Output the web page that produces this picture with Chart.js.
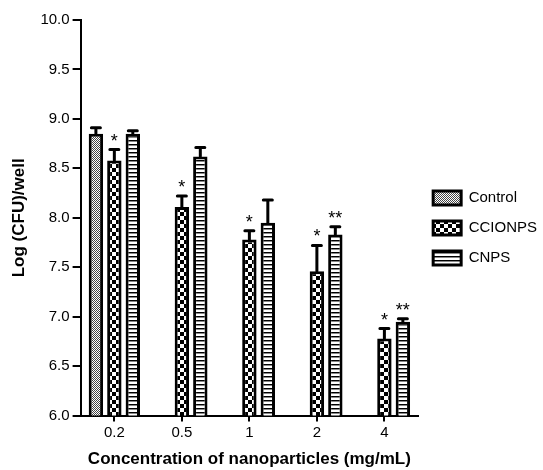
<!DOCTYPE html>
<html>
<head>
<meta charset="utf-8">
<script src="https://cdn.jsdelivr.net/npm/chart.js@4"></script>
<style>
  html, body { margin: 0; padding: 0; background: #fff; }
  #wrap { width: 543px; height: 470px; position: relative; }
</style>
</head>
<body>
<div id="wrap"><canvas id="chart"></canvas></div>
<script>
/* ─── Data ─── */
const concentrations = ["0.2", "0.5", "1", "2", "4"];
const controlMean = [8.85, null, null, null, null];
const controlErr = [0.06, null, null, null, null];
const ccionpsMean = [8.58, 8.11, 7.78, 7.46, 6.78];
const ccionpsErr = [0.11, 0.11, 0.09, 0.26, 0.10];
const cnpsMean = [8.85, 8.62, 7.95, 7.83, 6.95];
const cnpsErr = [0.03, 0.09, 0.23, 0.08, 0.03];
const ccionpsSig = ["*", "*", "*", "*", "*"];
const cnpsSig = ["", "", "", "**", "**"];
const yTicks = [6.0, 6.5, 7.0, 7.5, 8.0, 8.5, 9.0, 9.5, 10.0];

/* ─── Fill patterns ─── */
const makePattern = (size, paint) => {
  const c = document.createElement("canvas");
  c.width = size; c.height = size;
  const g = c.getContext("2d");
  g.fillStyle = "#fff";
  g.fillRect(0, 0, size, size);
  paint(g);
  return g.createPattern(c, "repeat");
};

const finePattern = makePattern(2, (g) => {
  g.fillStyle = "#444";
  g.fillRect(0, 0, 1, 1);
  g.fillRect(1, 1, 1, 1);
});
const checkPattern = makePattern(8, (g) => {
  g.fillStyle = "#000";
  g.fillRect(0, 0, 4, 4);
  g.fillRect(4, 4, 4, 4);
});
const stripePattern = makePattern(4, (g) => {
  g.fillStyle = "#000";
  g.fillRect(0, 0, 4, 1);
  g.fillStyle = "#888";
  g.fillRect(0, 1, 4, 1);
});

/* ─── Error bars + significance stars ─── */
const errorBars = {
  id: "errorBars",
  afterDatasetsDraw(chart) {
    const ctx = chart.ctx;
    const y = chart.scales.y;
    chart.data.datasets.forEach((ds, di) => {
      const meta = chart.getDatasetMeta(di);
      meta.data.forEach((bar, i) => {
        const m = ds.data[i];
        const e = ds.errors[i];
        if (m == null || e == null) return;
        const top = y.getPixelForValue(m + e);
        ctx.save();
        ctx.strokeStyle = "#000";
        ctx.lineWidth = 3;
        ctx.lineCap = "round";
        ctx.beginPath();
        ctx.moveTo(bar.x, bar.y);
        ctx.lineTo(bar.x, top);
        ctx.moveTo(bar.x - 4.5, top);
        ctx.lineTo(bar.x + 4.5, top);
        ctx.stroke();
        const sig = ds.sig ? ds.sig[i] : "";
        if (sig) {
          ctx.fillStyle = "#000";
          ctx.font = "18px 'Liberation Sans', Arial, sans-serif";
          ctx.textAlign = "center";
          ctx.textBaseline = "top";
          ctx.fillText(sig, bar.x, top - 17);
        }
        ctx.restore();
      });
    });
  },
};

const datasets = [
  { label: "Control", data: controlMean, errors: controlErr, backgroundColor: finePattern },
  { label: "CCIONPS", data: ccionpsMean, errors: ccionpsErr, sig: ccionpsSig, backgroundColor: checkPattern },
  { label: "CNPS", data: cnpsMean, errors: cnpsErr, sig: cnpsSig, backgroundColor: stripePattern },
].map((d) => ({
  ...d,
  borderColor: "#000",
  borderWidth: 3,
  borderSkipped: false,
  categoryPercentage: 0.82,
  barPercentage: 0.78,
}));

const font = "'Liberation Sans', Arial, sans-serif";

new Chart(document.getElementById("chart"), {
  type: "bar",
  data: { labels: concentrations, datasets },
  options: {
    responsive: true,
    maintainAspectRatio: false,
    animation: false,
    layout: { padding: { top: 20, right: -4, left: 9, bottom: 0 } },
    plugins: {
      tooltip: { enabled: false },
      legend: {
        position: "right",
        fullSize: false,
        // empty title only nudges the entries down a little
        title: { display: true, text: "", font: { size: 12 }, padding: 3 },
        labels: {
          color: "#000",
          font: { family: font, size: 15 },
          boxWidth: 28,
          boxHeight: 14,
          padding: 15,
        },
      },
    },
    scales: {
      x: {
        offset: true,
        grid: { display: true, drawOnChartArea: false, offset: false, tickLength: 6, color: "#000", lineWidth: 2 },
        border: { display: true, color: "#000", width: 2 },
        ticks: { color: "#000", font: { family: font, size: 15 }, padding: 2 },
        title: {
          display: true,
          text: "Concentration of nanoparticles (mg/mL)",
          color: "#000",
          font: { family: font, size: 17, weight: "bold" },
          padding: { top: 6, bottom: 0 },
        },
      },
      y: {
        min: 6,
        max: 10,
        afterBuildTicks: (s) => { s.ticks = yTicks.map((v) => ({ value: v })); },
        grid: { display: true, drawOnChartArea: false, tickLength: 8, color: "#000", lineWidth: 2 },
        border: { display: true, color: "#000", width: 2 },
        ticks: { color: "#000", font: { family: font, size: 15 }, padding: 3, callback: (v) => Number(v).toFixed(1) },
        title: {
          display: true,
          text: "Log (CFU)/well",
          color: "#000",
          font: { family: font, size: 17, weight: "bold" },
          padding: { top: 0, bottom: 8 },
        },
      },
    },
  },
  plugins: [errorBars],
});
</script>
</body>
</html>
